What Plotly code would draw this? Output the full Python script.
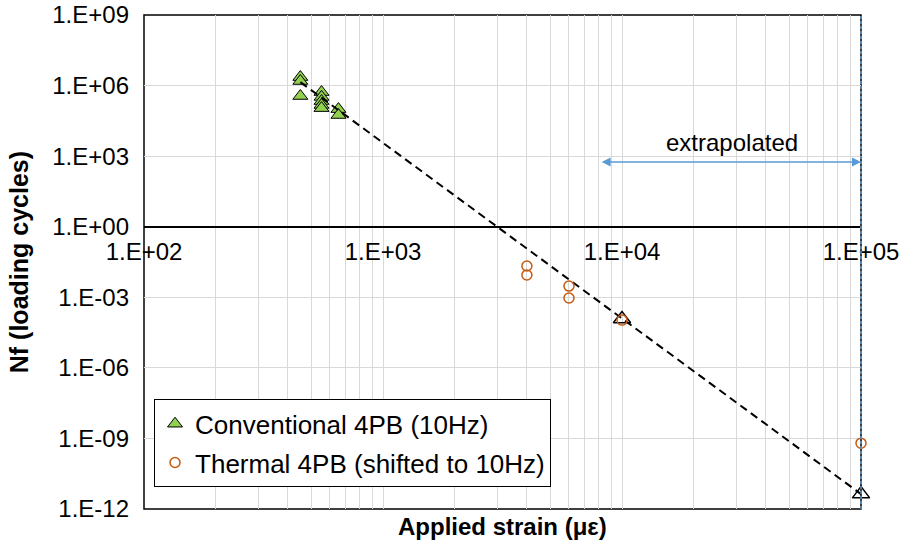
import math
import plotly.graph_objects as go

# Conventional 4PB (10Hz) test results
conv_strain = [451, 451, 451, 553, 553, 553, 553, 553, 651, 651]
conv_nf = [2.3e6, 1.56e6, 3.6e5, 5.3e5, 3.3e5, 2.2e5, 1.5e5, 1.1e5, 1.0e5, 5.6e4]

# Thermal 4PB shifted to 10Hz
therm_strain = [4000, 4000, 6000, 6000, 10000, 100000]
therm_nf = [0.0213, 0.0089, 0.0030, 9.3e-4, 1.07e-4, 6.3e-10]

# extrapolated points on the fatigue line
extrap_strain = [10000, 100000]
extrap_nf = [1.19e-4, 4.3e-12]

# fatigue line end points
trend_strain = [451, 100000]
trend_nf = [1.4e6, 4.3e-12]

x_ticks = [1e2, 1e3, 1e4, 1e5]
x_ticktext = ["1.E+02", "1.E+03", "1.E+04", "1.E+05"]
y_ticks = [1e9, 1e6, 1e3, 1e0, 1e-3, 1e-6, 1e-9, 1e-12]
y_ticktext = ["1.E+09", "1.E+06", "1.E+03", "1.E+00", "1.E-03", "1.E-06", "1.E-09", "1.E-12"]

extrap_start = 8100
arrow_nf = 10 ** 2.75
label_nf = 10 ** 3.56

FONT = "Liberation Sans, Arial, sans-serif"
BLUE = "#5B9BD5"
GRID = "#D9D9D9"
FS = 24

minor_x = [m * 10 ** e for e in range(2, 5) for m in range(2, 10)]

fig = go.Figure()

fig.add_trace(go.Scatter(
    x=conv_strain, y=conv_nf, mode="markers",
    name="Conventional 4PB (10Hz)", legendgroup="a",
    marker=dict(symbol="triangle-up", size=13, color="#92D050",
                line=dict(color="black", width=1)),
))
fig.add_trace(go.Scatter(
    x=trend_strain, y=trend_nf, mode="lines", showlegend=False,
    line=dict(color="black", width=2, dash="8px,5px"),
))
fig.add_trace(go.Scatter(
    x=extrap_strain, y=extrap_nf, mode="markers", showlegend=False, cliponaxis=False,
    marker=dict(symbol="triangle-up-open", size=15, color="black",
                line=dict(color="black", width=1.5)),
))
fig.add_trace(go.Scatter(
    x=therm_strain, y=therm_nf, mode="markers", cliponaxis=False,
    name="Thermal 4PB (shifted to 10Hz)", legendgroup="b",
    marker=dict(symbol="circle-open", size=10, color="#C55A11",
                line=dict(color="#C55A11", width=1.5)),
))

# plot area border
fig.add_shape(type="rect", xref="paper", yref="paper", x0=0, x1=1, y0=0, y1=1,
              line=dict(color="black", width=1.5), layer="below")

# extrapolation limits (the right one sits on the plot edge, so use paper coords to avoid clipping)
fig.add_shape(type="line", xref="x", yref="paper",
              x0=math.log10(extrap_start), x1=math.log10(extrap_start), y0=0, y1=1,
              line=dict(color=BLUE, width=1.5, dash="3px,2px"), layer="above")
fig.add_shape(type="line", xref="paper", yref="paper", x0=1, x1=1, y0=0, y1=1,
              line=dict(color=BLUE, width=1.5, dash="3px,2px"), layer="above")

fig.add_annotation(
    x=math.log10(1e5), y=math.log10(arrow_nf), ax=math.log10(extrap_start), ay=math.log10(arrow_nf),
    xref="x", yref="y", axref="x", ayref="y", text="", showarrow=True,
    arrowhead=2, startarrowhead=2, arrowside="end+start", arrowsize=1.2,
    arrowwidth=1.5, arrowcolor=BLUE,
)
fig.add_annotation(
    x=4.462, y=math.log10(label_nf), xref="x", yref="y", text="extrapolated",
    showarrow=False, font=dict(family=FONT, size=FS, color="black"),
)
fig.add_annotation(
    x=0.5, y=0, xref="paper", yref="paper", yanchor="top", yshift=-2,
    text="<b>Applied strain (με)</b>", showarrow=False,
    font=dict(family=FONT, size=FS, color="black"),
)
fig.add_annotation(
    x=-0.174, y=0.5, xref="paper", yref="paper", xanchor="center", yanchor="middle",
    text="<b>Nf (loading cycles)</b>", textangle=-90, showarrow=False,
    font=dict(family=FONT, size=25, color="black"),
)

fig.update_xaxes(
    type="log", range=[2, 5], anchor="free", position=12 / 21, automargin=False,
    tickvals=x_ticks, ticktext=x_ticktext, showline=True, linecolor="black", linewidth=1.5,
    showgrid=True, gridcolor=GRID, gridwidth=1, zeroline=False,
    minor=dict(tickvals=minor_x, showgrid=True, gridcolor=GRID, gridwidth=1),
    tickfont=dict(family=FONT, size=FS, color="black"), ticks="", ticklabelstandoff=4,
)
fig.update_yaxes(
    type="log", range=[-12, 9], tickvals=y_ticks, ticktext=y_ticktext, automargin=False,
    showline=False, showgrid=True, gridcolor=GRID, gridwidth=1, zeroline=False,
    tickfont=dict(family=FONT, size=FS, color="black"), ticks="", ticklabelstandoff=14,
)

fig.update_layout(
    width=902, height=544,
    margin=dict(l=144, r=41, t=15, b=35),
    paper_bgcolor="white", plot_bgcolor="white",
    font=dict(family=FONT, color="black"),
    showlegend=True,
    legend=dict(
        x=0.014, y=0.222, xanchor="left", yanchor="top",
        bgcolor="white", bordercolor="black", borderwidth=1,
        font=dict(family=FONT, size=26, color="black"),
        tracegroupgap=2, itemwidth=30,
    ),
)

# drop the default page margin so the figure sits at the window origin
fig.write_html("out.html", config={"displayModeBar": False},
               post_script="document.body.style.margin='0';")
